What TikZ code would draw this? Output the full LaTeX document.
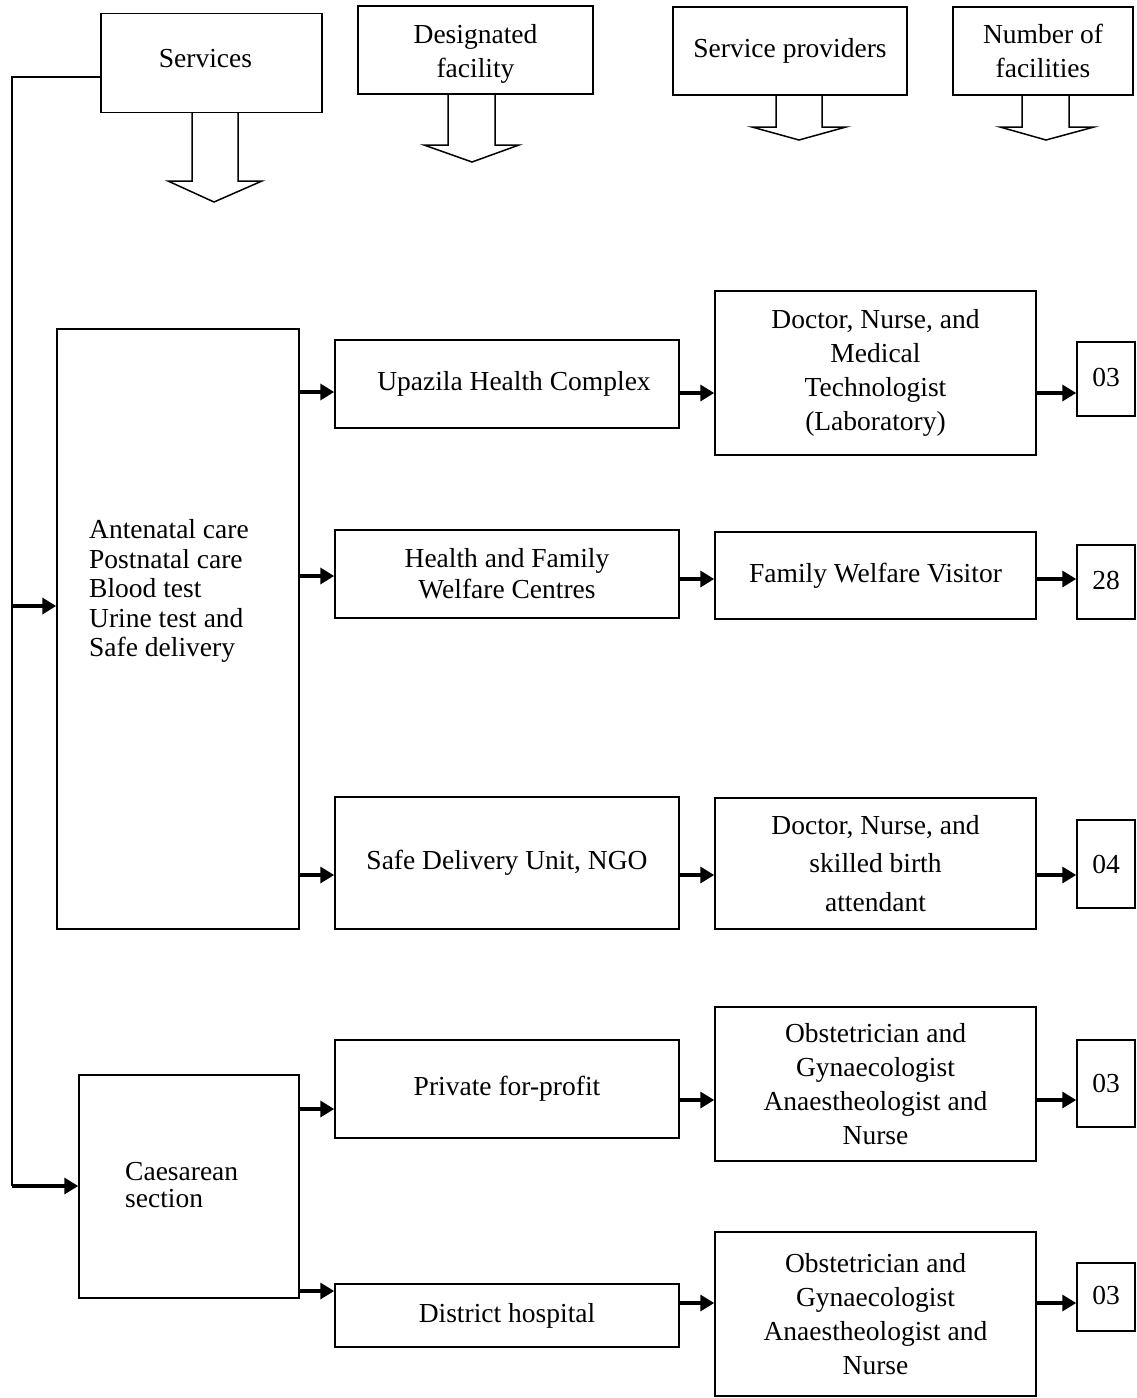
\documentclass[tikz,border=0pt]{standalone}
\usepackage{fontspec}
\setmainfont{Liberation Serif}
\usetikzlibrary{arrows.meta,calc}
\newcommand\myfs{\fontsize{27.5}{34}\selectfont}
\begin{document}
\begin{tikzpicture}[x=1pt,y=-1pt,
  box/.style={draw, line width=1.5pt, inner sep=0pt, align=center, font=\myfs},
  txt/.style={inner sep=0pt, align=left, font=\myfs},
  conn/.style={line width=3.4pt, -{Triangle[length=14pt,width=16pt]}},
  thinline/.style={line width=1.5pt},
  blockarrow/.style={line width=1.5pt, line join=miter}]
\useasboundingbox (0,0) rectangle (1136,1398);
% header boxes
\node[box, minimum width=221pt, minimum height=99pt,
  label={[font=\myfs, inner sep=0pt, xshift=-6pt, yshift=4pt]center:Services}] (svc) at (211.5,63) {};
\node[box, minimum width=235pt, minimum height=88pt,
  label={[font=\myfs, align=center, inner sep=0pt, yshift=-4pt]center:Designated\\facility}] (des) at (475.5,50) {};
\node[box, minimum width=234pt, minimum height=88pt] (spr) at (790,51) {Service providers};
\node[box, minimum width=180pt, minimum height=88pt] (nof) at (1043,51) {Number of\\facilities};
% block arrows
\draw[blockarrow] (192,113) -- (192,181) -- (168,181) -- (214,202) -- (262,181) -- (238,181) -- (238,113);
\draw[blockarrow] (448,94) -- (448,145) -- (424,145) -- (472,162) -- (519,145) -- (495,145) -- (495,94);
\draw[blockarrow] (776,95) -- (776,127) -- (752,127) -- (799,140) -- (846,127) -- (822,127) -- (822,95);
\draw[blockarrow] (1022,95) -- (1022,127) -- (1000,127) -- (1046,140) -- (1094,127) -- (1069,127) -- (1069,95);
% service boxes
\node[box, minimum width=242pt, minimum height=600pt] (anc) at (178,629) {};
\node[txt, anchor=west, font=\fontsize{27.5}{29.5}\selectfont] (anctext) at (89,591) {Antenatal care\\Postnatal care\\Blood test\\Urine test and\\Safe delivery};
\node[box, minimum width=220pt, minimum height=223pt] (ces) at (189,1186.5) {};
\node[txt, anchor=west, font=\fontsize{27.5}{27}\selectfont] (cestext) at (125,1185) {Caesarean\\section};
% facility boxes
\node[box, minimum width=344pt, minimum height=88pt] (f1) at (507,384) {\hspace*{14pt}\raisebox{-2pt}{Upazila Health Complex}};
\node[box, minimum width=344pt, minimum height=88pt, font=\fontsize{27.5}{31}\selectfont] (f2) at (507,574) {Health and Family\\Welfare Centres};
\node[box, minimum width=344pt, minimum height=132pt] (f3) at (507,863) {\raisebox{-3pt}{Safe Delivery Unit, NGO}};
\node[box, minimum width=344pt, minimum height=98pt] (f4) at (507,1089) {Private for-profit};
\node[box, minimum width=344pt, minimum height=63pt] (f5) at (507,1315.5) {District hospital};
% provider boxes
\node[box, minimum width=321pt, minimum height=164pt] (p1) at (875.5,373) {Doctor, Nurse, and\\Medical\\Technologist\\(Laboratory)};
\node[box, minimum width=321pt, minimum height=87pt] (p2) at (875.5,575.5) {\raisebox{-2pt}{Family Welfare Visitor}};
\node[box, minimum width=321pt, minimum height=131pt, font=\fontsize{27.5}{38.5}\selectfont] (p3) at (875.5,863.5) {Doctor, Nurse, and\\skilled birth\\attendant};
\node[box, minimum width=321pt, minimum height=154pt] (p4) at (875.5,1084) {Obstetrician and\\Gynaecologist\\Anaestheologist and\\Nurse};
\node[box, minimum width=321pt, minimum height=164pt] (p5) at (875.5,1314) {Obstetrician and\\Gynaecologist\\Anaestheologist and\\Nurse};
% number boxes
\node[box, minimum width=58pt, minimum height=74pt] (n1) at (1106,379) {\raisebox{4pt}{03}};
\node[box, minimum width=58pt, minimum height=74pt] (n2) at (1106,582) {\raisebox{4pt}{28}};
\node[box, minimum width=58pt, minimum height=88pt] (n3) at (1106,864) {04};
\node[box, minimum width=58pt, minimum height=87pt] (n4) at (1106,1083.5) {03};
\node[box, minimum width=58pt, minimum height=68pt] (n5) at (1106,1297) {\raisebox{4pt}{03}};
% left bracket line
\coordinate (ltop) at (12,77);
\coordinate (la) at (12,606);
\coordinate (lc) at (12,1186);
\draw[thinline] (svc.west |- ltop) -- (ltop) -- (lc);
\draw[conn] (la) -- (anc.west |- la);
\draw[conn] (lc) -- (ces.west |- lc);
% service -> facility
\draw[conn] (anc.east |- 0,392) -- (f1.west |- 0,392);
\draw[conn] (anc.east |- 0,576) -- (f2.west |- 0,576);
\draw[conn] (anc.east |- 0,875) -- (f3.west |- 0,875);
\draw[conn] (ces.east |- 0,1109) -- (f4.west |- 0,1109);
\draw[conn] (ces.east |- 0,1291) -- (f5.west |- 0,1291);
% facility -> provider
\draw[conn] (f1.east |- 0,393) -- (p1.west |- 0,393);
\draw[conn] (f2.east |- 0,579) -- (p2.west |- 0,579);
\draw[conn] (f3.east |- 0,875) -- (p3.west |- 0,875);
\draw[conn] (f4.east |- 0,1100) -- (p4.west |- 0,1100);
\draw[conn] (f5.east |- 0,1303) -- (p5.west |- 0,1303);
% provider -> number
\draw[conn] (p1.east |- 0,393) -- (n1.west |- 0,393);
\draw[conn] (p2.east |- 0,579) -- (n2.west |- 0,579);
\draw[conn] (p3.east |- 0,875) -- (n3.west |- 0,875);
\draw[conn] (p4.east |- 0,1100) -- (n4.west |- 0,1100);
\draw[conn] (p5.east |- 0,1303) -- (n5.west |- 0,1303);
\end{tikzpicture}
\end{document}
